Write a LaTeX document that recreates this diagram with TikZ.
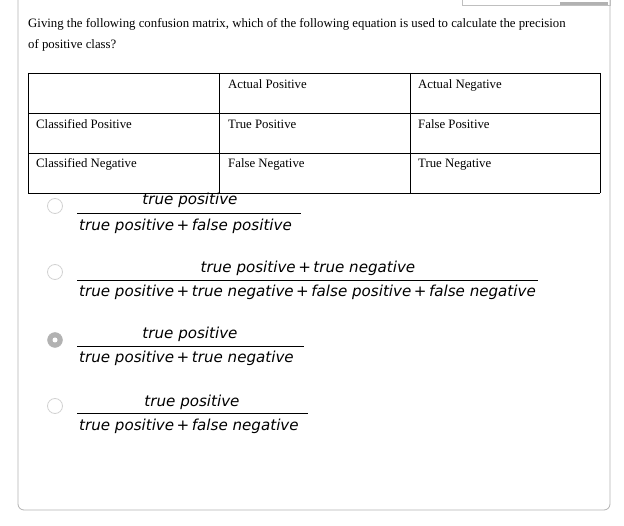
\documentclass[tikz,border=0pt]{standalone}
\usepackage{fontspec}
\setmainfont{Liberation Serif}
\newfontfamily\formfont{DejaVu Sans}

\tikzset{
  cell/.style={anchor=base west, inner sep=0pt, font=\fontsize{12.8}{15}\selectfont},
  frac/.style={inner sep=0pt, font=\formfont\itshape\fontsize{15.1}{18}\selectfont},
  radio/.style={draw=gray!35, line width=0.8pt, fill=white}
}
\newcommand{\pl}{\,+\,}

\begin{document}
\begin{tikzpicture}[x=1pt, y=-1pt]
  \useasboundingbox (0,0) rectangle (624,526);
  % outer card
  \draw[gray!60, line width=0.8pt, rounded corners=6] (18,-10) -- (18,510) -- (610,510) -- (610,-10);
  \draw[gray!50, line width=0.6pt] (462,-5) rectangle (610,5);
  \fill[gray!60] (560,2) rectangle (608,5);
  % question
  \node[cell] (question1) at (28,28)
    {Giving the following confusion matrix, which of the following equation is used to calculate the precision};
  \node[cell] (question2) at (28,49) {of positive class?};
  % table
  \foreach \y in {73,113,153,193} \draw[line width=0.6pt] (28,\y) -- (600,\y);
  \foreach \x in {28,219,410,600} \draw[line width=0.6pt] (\x,73) -- (\x,193);
  \node[cell] (ap) at (228,89)  {Actual Positive};
  \node[cell] (an) at (418,89)  {Actual Negative};
  \node[cell] (cp) at (36,129)  {Classified Positive};
  \node[cell] (tp) at (228,129) {True Positive};
  \node[cell] (fp) at (418,129) {False Positive};
  \node[cell] (cn) at (36,168)  {Classified Negative};
  \node[cell] (fn) at (228,168) {False Negative};
  \node[cell] (tn) at (418,168) {True Negative};
  % options
  \draw[radio] (55,206) circle (7.5);
  \draw[radio] (55,272) circle (7.5);
  \draw[gray!60, fill=gray!60] (55,340) circle (7.5);
  \fill[white] (55,340) circle (2.5);
  \draw[radio] (55,406) circle (7.5);
  % fractions
  \node[frac] (num1) at (190,200) {true positive};
  \node[frac, anchor=west] (den1) at (79,226) {true positive\pl false positive};
  \draw[line width=0.6pt] (77,213) -- (301,213);
  \node[frac] (num2) at (308,268) {true positive\pl true negative};
  \node[frac, anchor=west] (den2) at (79,292) {true positive\pl true negative\pl false positive\pl false negative};
  \draw[line width=0.6pt] (77,280) -- (538,280);
  \node[frac] (num3) at (190,334) {true positive};
  \node[frac, anchor=west] (den3) at (79,358) {true positive\pl true negative};
  \draw[line width=0.6pt] (77,346) -- (304,346);
  \node[frac] (num4) at (192,402) {true positive};
  \node[frac, anchor=west] (den4) at (79,426) {true positive\pl false negative};
  \draw[line width=0.6pt] (77,413) -- (308,413);
\end{tikzpicture}
\end{document}
